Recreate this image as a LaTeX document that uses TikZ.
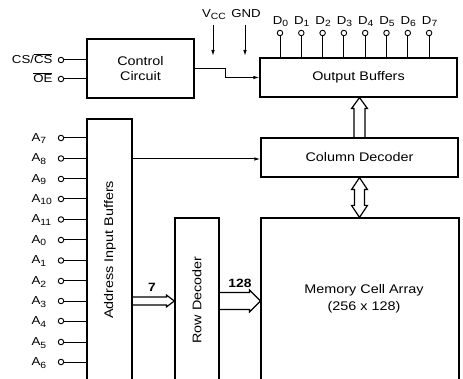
\documentclass[tikz,border=0pt]{standalone}
\usepackage{fontspec}
\setmainfont[FakeStretch=1.15]{Liberation Sans}
\usetikzlibrary{arrows.meta,calc}
\newcommand{\lowsub}[1]{\raisebox{-2.5pt}{\fontsize{9}{9}\selectfont #1}}
\newcommand{\ovl}[1]{$\overline{\mbox{#1}}$}
\newcommand{\hbus}[5]{%
  \draw ($(#1)+(0,-#3)$) -- ($(#2)+(-#4,-#3)$) -- ($(#2)+(-#4,-#3-#5)$) -- (#2)
     -- ($(#2)+(-#4,#3+#5)$) -- ($(#2)+(-#4,#3)$) -- ($(#1)+(0,#3)$);}
\begin{document}
\begin{tikzpicture}[x=1pt,y=-1pt, line width=1.2pt,
  box/.style={draw, line width=1.2pt, inner sep=0pt},
  lbl/.style={font=\fontsize{12.5}{15}\selectfont},
  pin/.style={draw, circle, minimum size=5.5pt, inner sep=0pt, line width=0.9pt, fill=white},
  pinlbl/.style={font=\fontsize{11.5}{13}\selectfont, inner sep=0pt},
  sig/.style={-{Latex[length=6pt,width=3.5pt]}},
  wire/.style={line width=1pt}
]
\useasboundingbox (0,0) rectangle (463,379);
\clip (0,0) rectangle (463,379);

% boxes
\node[box, minimum width=107pt, minimum height=59pt, align=center, lbl] (ctl) at (140.5,68.5) {Control\\Circuit};
\node[box, minimum width=197pt, minimum height=39pt, lbl] (ob) at (358.5,77.5) {Output Buffers};
\node[box, minimum width=197pt, minimum height=39pt, lbl] (cd) at (359.5,157.5) {Column Decoder};
\node[box, minimum width=198pt, minimum height=172pt] (mem) at (360,304) {};
\node[lbl, align=center] (memtxt) at (364,298.5) {Memory Cell Array\\[2pt](256 x 128)};
\node[box, minimum width=45pt, minimum height=272pt] (ab) at (109.5,255) {};
\node[lbl, rotate=90] (abtxt) at (110,250) {Address Input Buffers};
\node[box, minimum width=44pt, minimum height=172pt] (rd) at (197,304) {};
\node[lbl, rotate=90] (rdtxt) at (197,300) {Row Decoder};

% control pins
\node[pin] (cs) at (61,60) {};
\node[pinlbl, anchor=base east] (lcs) at (53,64) {CS/\ovl{CS}};
\node[pin] (oe) at (61,79) {};
\node[pinlbl, anchor=base east] (loe) at (53,83) {\ovl{OE}};
\draw[wire] (cs) -- (cs -| ctl.west);
\draw[wire] (oe) -- (oe -| ctl.west);

% address pins
\foreach \n/\y in {7/138, 8/158.5, 9/179, 10/199, 11/219.5, 0/240, 1/260.5, 2/281, 3/301, 4/321, 5/342, 6/362}{
  \node[pin] (a\n) at (61,\y) {};
  \node[pinlbl, anchor=base west] (la\n) at (31,\y+3.5) {A\lowsub{\n}};
  \draw[wire] (a\n) -- (a\n -| ab.west);
}

% data pins
\foreach \i in {0,...,7}{
  \pgfmathsetmacro{\xx}{280+21.3*\i}
  \node[pin] (d\i) at (\xx,33) {};
  \node[pinlbl, anchor=base] (ld\i) at (\xx+0.5,24.5) {D\lowsub{\i}};
  \draw[wire] (d\i) -- (d\i |- ob.north);
}

% supply
\node[pinlbl, anchor=base] (vcc) at (214,17.5) {V\lowsub{CC}};
\node[pinlbl, anchor=base] (gnd) at (246,17.5) {GND};
\coordinate (vcc1) at (213,25);
\coordinate (vcc2) at (213,56);
\coordinate (gnd1) at (245,25);
\coordinate (gnd2) at (245,56);
\draw[wire, sig] (vcc1) -- (vcc2);
\draw[wire, sig] (gnd1) -- (gnd2);

% control to output buffers
\draw[wire, sig] (ctl.east) -- ++(31,0) |- (ob.west);

% address buffers to column decoder
\draw[wire, sig] (ab.east |- 0,159) -- (cd.west |- 0,159);

% bus: address buffers -> row decoder
\coordinate (b7s) at (ab.east |- 0,301);
\coordinate (b7e) at (rd.west |- 0,301);
\hbus{b7s}{b7e}{4}{8}{2}
\node[pinlbl, font=\fontsize{12}{14}\selectfont\bfseries] (l7) at (152,287) {7};

% bus: row decoder -> memory
\coordinate (b128s) at (rd.east |- 0,301);
\coordinate (b128e) at (mem.west |- 0,301);
\hbus{b128s}{b128e}{8.5}{11}{2.5}
\node[pinlbl, font=\fontsize{12}{14}\selectfont\bfseries] (l128) at (240,283) {128};

% bus: column decoder -> output buffers
\coordinate (cu) at (ob.south -| cd.north);
\draw (cd.north) ++(-5.5,0) coordinate (cl0) -- ($(cu)+(-5.5,11)$) -- ($(cu)+(-8,11)$) -- (cu)
  -- ($(cu)+(8,11)$) -- ($(cu)+(5.5,11)$) -- ($(cd.north)+(5.5,0)$);

% bus: column decoder <-> memory
\coordinate (t1) at (cd.south);
\coordinate (t2) at (cd.south |- mem.north);
\draw (t1) -- ($(t1)+(8,12)$) -- ($(t1)+(5,12)$) -- ($(t2)+(5,-12)$) -- ($(t2)+(8,-12)$) -- (t2)
  -- ($(t2)+(-8,-12)$) -- ($(t2)+(-5,-12)$) -- ($(t1)+(-5,12)$) -- ($(t1)+(-8,12)$) -- cycle;
\end{tikzpicture}
\end{document}
